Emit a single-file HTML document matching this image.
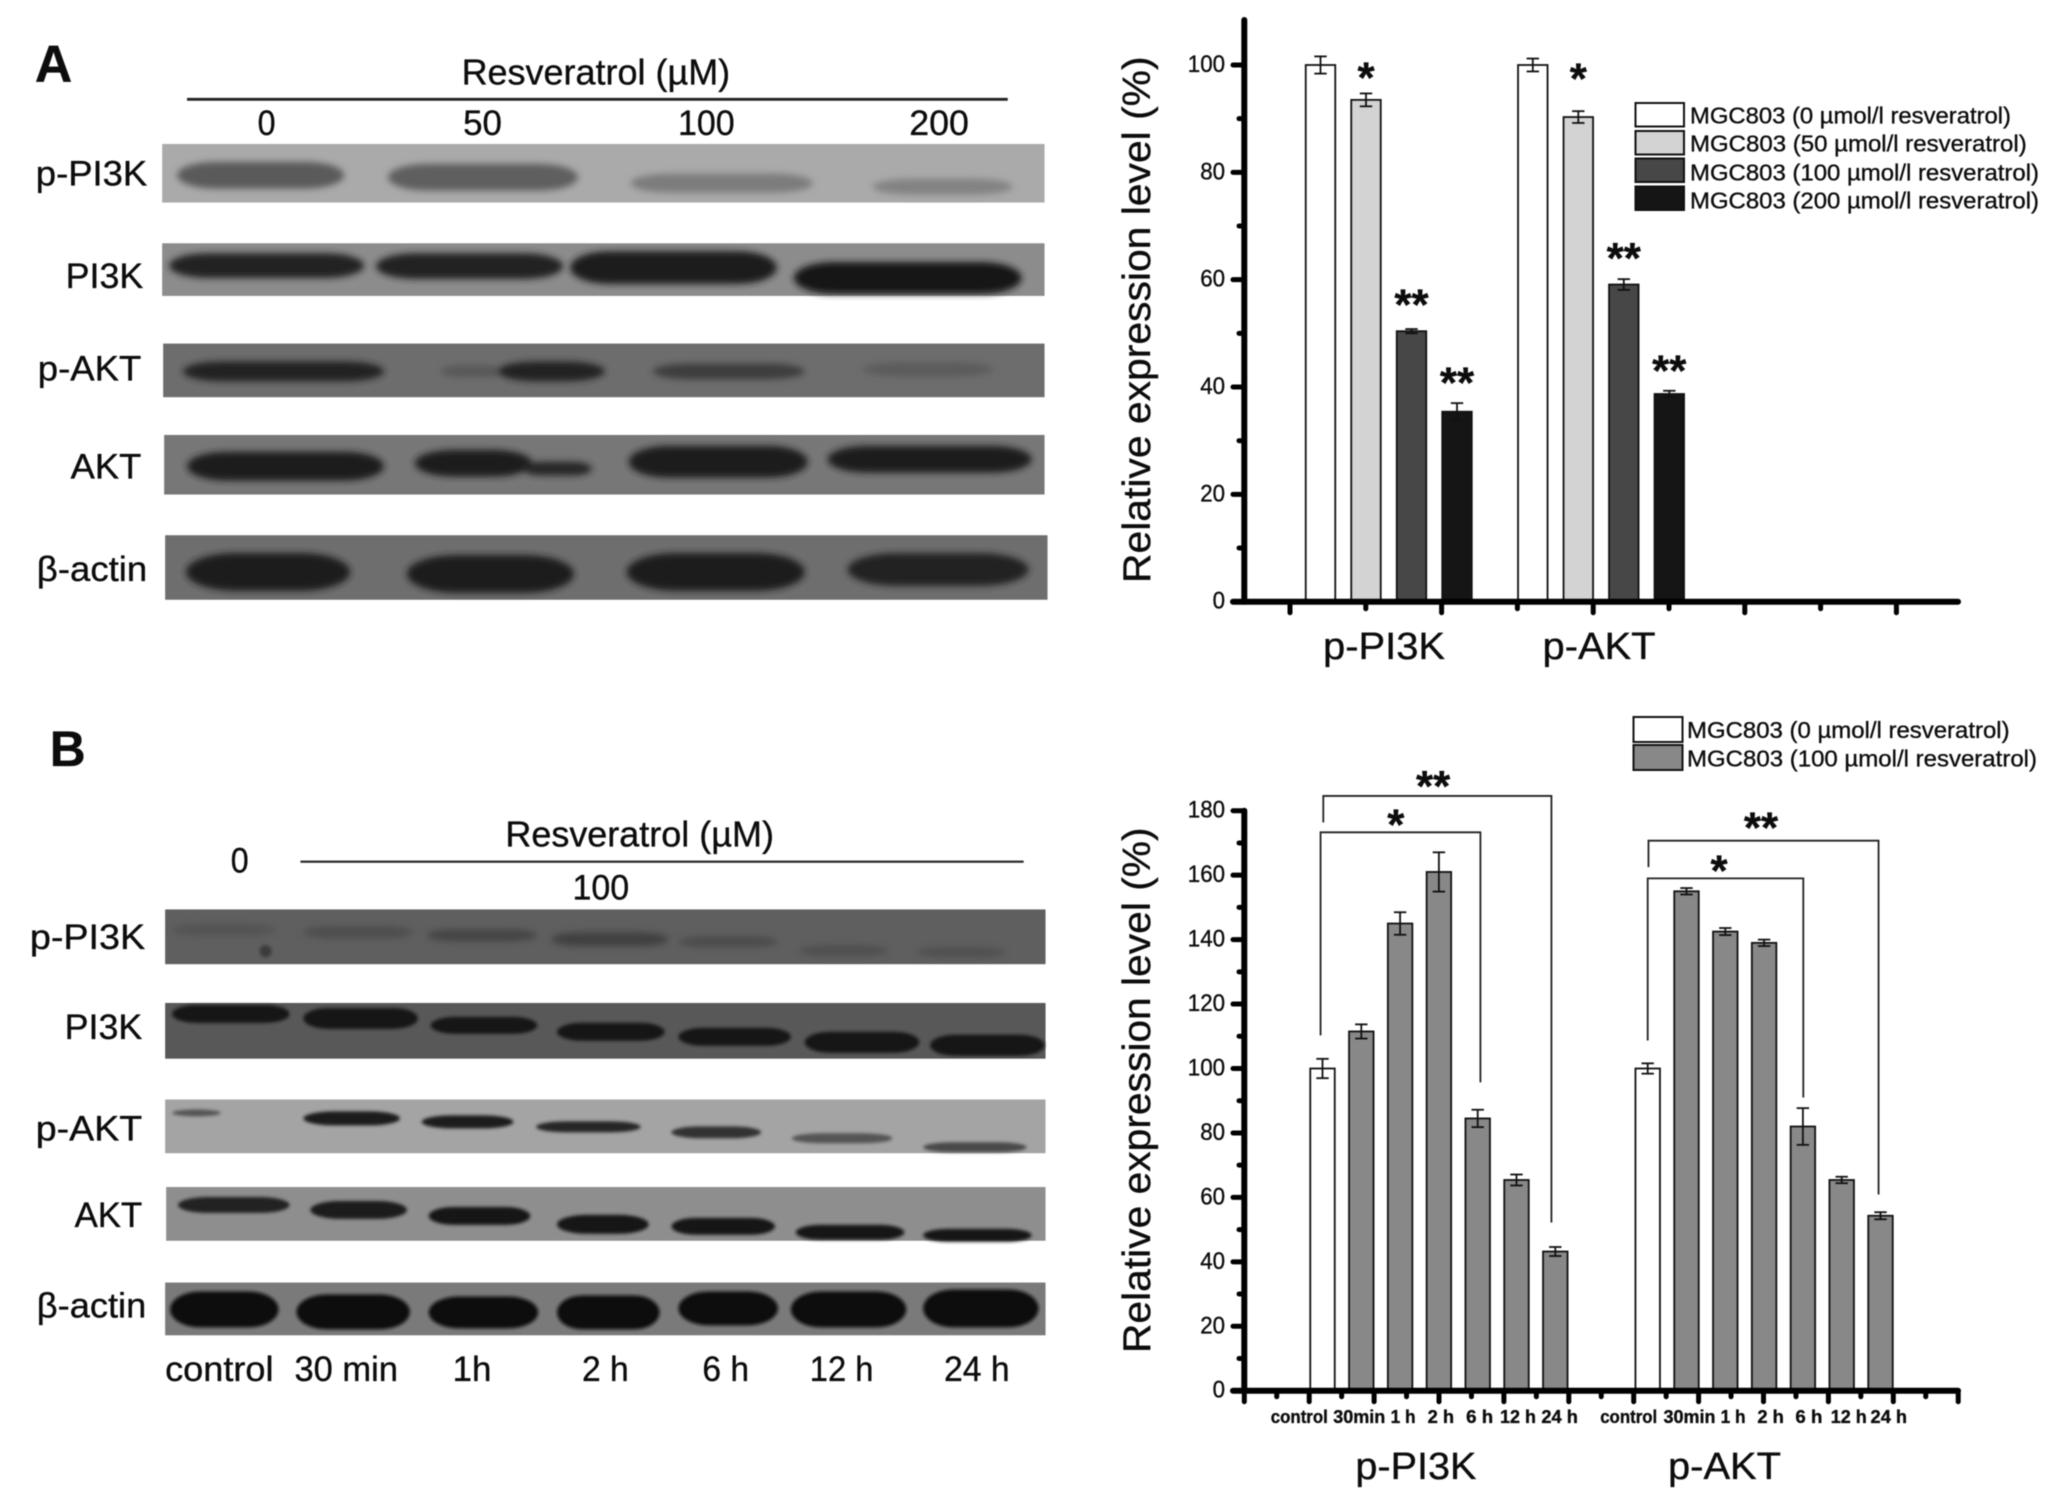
<!DOCTYPE html>
<html lang="en">
<head>
<meta charset="utf-8">
<title>Resveratrol western blots and expression charts</title>
<style>
html,body{margin:0;padding:0;background:#fff;width:2066px;height:1499px;overflow:hidden}
svg{display:block;font-family:"Liberation Sans",Arial,sans-serif;filter:blur(.45px)}
text{fill:#0c0c0c;stroke:#0c0c0c;stroke-width:.35px}
</style>
</head>
<body>
<svg id="figure" xmlns="http://www.w3.org/2000/svg" width="2066" height="1499" viewBox="0 0 2066 1499">
<defs>
<filter id="soft" x="-20%" y="-80%" width="140%" height="260%"><feGaussianBlur stdDeviation="3.4"/></filter>
<filter id="softer" x="-20%" y="-60%" width="140%" height="220%"><feGaussianBlur stdDeviation="1.5"/></filter>
</defs>

<g transform="scale(0.9948,0.993)">
<text x="35" y="82" font-size="52" font-weight="bold">A</text>
<text x="464" y="85" font-size="36" textLength="270" lengthAdjust="spacingAndGlyphs">Resveratrol (µM)</text>
<line x1="188" y1="100" x2="1013" y2="100" stroke="#222" stroke-width="2.8"/>
<text x="268" y="136" font-size="35" text-anchor="middle" textLength="18" lengthAdjust="spacingAndGlyphs">0</text>
<text x="485" y="136" font-size="35" text-anchor="middle" textLength="39" lengthAdjust="spacingAndGlyphs">50</text>
<text x="710" y="136" font-size="35" text-anchor="middle" textLength="57" lengthAdjust="spacingAndGlyphs">100</text>
<text x="944" y="136" font-size="35" text-anchor="middle" textLength="60" lengthAdjust="spacingAndGlyphs">200</text>

<text x="36" y="187" font-size="35" textLength="112" lengthAdjust="spacingAndGlyphs">p-PI3K</text>
<text x="66" y="290" font-size="35" textLength="78" lengthAdjust="spacingAndGlyphs">PI3K</text>
<text x="38" y="383" font-size="35" textLength="104" lengthAdjust="spacingAndGlyphs">p-AKT</text>
<text x="71" y="482" font-size="35" textLength="71" lengthAdjust="spacingAndGlyphs">AKT</text>
<text x="37" y="585" font-size="35" textLength="111" lengthAdjust="spacingAndGlyphs">β-actin</text>

<g>
<rect x="163" y="145" width="887" height="59" fill="#aaaaaa"/>
<g filter="url(#soft)">
<rect x="178" y="163" width="168" height="27" rx="40" fill="#5a5a5a"/>
<rect x="390" y="165" width="191" height="27" rx="40" fill="#5e5e5e"/>
<rect x="634" y="175" width="183" height="19" rx="40" fill="#7c7c7c"/>
<rect x="877" y="180" width="141" height="16" rx="40" fill="#828282"/>
</g></g>

<g>
<rect x="163" y="245" width="887" height="53" fill="#8c8c8c"/>
<g filter="url(#soft)">
<rect x="170" y="255" width="196" height="25" rx="40" fill="#202020"/>
<rect x="378" y="255" width="188" height="26" rx="40" fill="#202020"/>
<rect x="573" y="253" width="208" height="33" rx="40" fill="#1e1e1e"/>
<rect x="798" y="264" width="229" height="32" rx="40" fill="#181818"/>
</g></g>

<g>
<rect x="164" y="346" width="886" height="54" fill="#6d6d6d"/>
<g filter="url(#soft)">
<rect x="184" y="364" width="202" height="20" rx="40" fill="#202020"/>
<rect x="443" y="368" width="65" height="12" rx="20" fill="#585858"/>
<rect x="500" y="364" width="108" height="20" rx="40" fill="#222"/>
<rect x="656" y="366" width="153" height="16" rx="40" fill="#3e3e3e"/>
<rect x="867" y="365" width="132" height="14" rx="40" fill="#5c5c5c"/>
</g></g>

<g>
<rect x="165" y="438" width="885" height="60" fill="#777"/>
<g filter="url(#soft)">
<rect x="188" y="455" width="198" height="29" rx="40" fill="#1a1a1a"/>
<rect x="417" y="453" width="118" height="27" rx="40" fill="#1c1c1c"/>
<rect x="525" y="465" width="70" height="14" rx="20" fill="#262626"/>
<rect x="632" y="449" width="180" height="32" rx="40" fill="#1e1e1e"/>
<rect x="832" y="449" width="205" height="27" rx="40" fill="#1e1e1e"/>
</g></g>

<g>
<rect x="166" y="539" width="887" height="65" fill="#6e6e6e"/>
<g filter="url(#soft)">
<rect x="187" y="557" width="165" height="38" rx="50" fill="#1a1a1a"/>
<rect x="409" y="559" width="168" height="38" rx="50" fill="#1a1a1a"/>
<rect x="630" y="557" width="179" height="38" rx="50" fill="#1a1a1a"/>
<rect x="852" y="557" width="182" height="33" rx="50" fill="#232323"/>
</g></g>
</g>

<g transform="translate(-1,717.4) scale(0.9948,0.995) translate(0,-720)">
<text x="51" y="769" font-size="50" font-weight="bold">B</text>
<text x="242" y="876" font-size="35" text-anchor="middle" textLength="18" lengthAdjust="spacingAndGlyphs">0</text>
<text x="509" y="850" font-size="36" textLength="270" lengthAdjust="spacingAndGlyphs">Resveratrol (µM)</text>
<line x1="303" y1="865" x2="1030" y2="865" stroke="#222" stroke-width="2.2"/>
<text x="605" y="903" font-size="35" text-anchor="middle" textLength="57" lengthAdjust="spacingAndGlyphs">100</text>

<text x="31" y="953" font-size="35" textLength="116" lengthAdjust="spacingAndGlyphs">p-PI3K</text>
<text x="66" y="1043" font-size="35" textLength="78" lengthAdjust="spacingAndGlyphs">PI3K</text>
<text x="37" y="1145" font-size="35" textLength="107" lengthAdjust="spacingAndGlyphs">p-AKT</text>
<text x="76" y="1232" font-size="35" textLength="68" lengthAdjust="spacingAndGlyphs">AKT</text>
<text x="38" y="1323" font-size="35" textLength="110" lengthAdjust="spacingAndGlyphs">β-actin</text>

<g>
<rect x="167" y="913" width="885" height="55" fill="#5f5f5f"/>
<g filter="url(#soft)">
<rect x="174" y="928" width="104" height="11" rx="30" fill="#535353"/>
<rect x="306" y="930" width="110" height="12" rx="30" fill="#4e4e4e"/>
<rect x="430" y="933" width="111" height="12" rx="30" fill="#444"/>
<rect x="555" y="936" width="118" height="14" rx="30" fill="#404040"/>
<rect x="683" y="940" width="100" height="11" rx="30" fill="#4c4c4c"/>
<rect x="804" y="949" width="90" height="11" rx="30" fill="#505050"/>
<rect x="922" y="951" width="90" height="10" rx="30" fill="#505050"/>
</g>
<circle cx="268" cy="955" r="6" fill="#3a3a3a" filter="url(#softer)"/>
</g>

<g>
<rect x="167" y="1007" width="885" height="56" fill="#585858"/>
<g filter="url(#softer)">
<rect x="174" y="1009" width="118" height="18" rx="25" fill="#131313"/>
<rect x="306" y="1012" width="115" height="21" rx="25" fill="#131313"/>
<rect x="434" y="1021" width="107" height="17" rx="25" fill="#131313"/>
<rect x="561" y="1027" width="108" height="18" rx="25" fill="#131313"/>
<rect x="683" y="1032" width="113" height="18" rx="25" fill="#131313"/>
<rect x="810" y="1036" width="115" height="21" rx="25" fill="#131313"/>
<rect x="936" y="1039" width="115" height="21" rx="25" fill="#131313"/>
</g></g>

<g>
<rect x="167" y="1104" width="885" height="54" fill="#a4a4a4"/>
<g filter="url(#softer)">
<rect x="174" y="1114" width="49" height="7" rx="25" fill="#555"/>
<rect x="306" y="1116" width="97" height="14" rx="30" fill="#1c1c1c"/>
<rect x="425" y="1120" width="92" height="13" rx="30" fill="#1c1c1c"/>
<rect x="540" y="1126" width="105" height="11" rx="30" fill="#262626"/>
<rect x="676" y="1131" width="90" height="12" rx="30" fill="#303030"/>
<rect x="797" y="1138" width="101" height="10" rx="30" fill="#555"/>
<rect x="929" y="1147" width="104" height="10" rx="30" fill="#4a4a4a"/>
</g></g>

<g>
<rect x="168" y="1192" width="884" height="54" fill="#8e8e8e"/>
<g filter="url(#softer)">
<rect x="180" y="1202" width="112" height="16" rx="30" fill="#202020"/>
<rect x="313" y="1206" width="97" height="18" rx="30" fill="#1a1a1a"/>
<rect x="432" y="1212" width="102" height="18" rx="25" fill="#181818"/>
<rect x="561" y="1220" width="92" height="19" rx="30" fill="#141414"/>
<rect x="676" y="1223" width="104" height="17" rx="25" fill="#141414"/>
<rect x="801" y="1230" width="109" height="15" rx="25" fill="#141414"/>
<rect x="929" y="1234" width="109" height="13" rx="25" fill="#141414"/>
</g></g>

<g>
<rect x="167" y="1288" width="885" height="53" fill="#7a7a7a"/>
<g filter="url(#softer)">
<rect x="172" y="1297" width="109" height="36" rx="30" fill="#111"/>
<rect x="299" y="1300" width="114" height="35" rx="30" fill="#111"/>
<rect x="432" y="1302" width="110" height="32" rx="30" fill="#111"/>
<rect x="561" y="1301" width="103" height="34" rx="25" fill="#111"/>
<rect x="683" y="1297" width="100" height="34" rx="30" fill="#111"/>
<rect x="796" y="1297" width="116" height="36" rx="30" fill="#111"/>
<rect x="929" y="1295" width="116" height="38" rx="30" fill="#111"/>
</g></g>

<text x="167" y="1387" font-size="35" textLength="109" lengthAdjust="spacingAndGlyphs">control</text>
<text x="297" y="1387" font-size="35" textLength="104" lengthAdjust="spacingAndGlyphs">30 min</text>
<text x="456" y="1387" font-size="35" textLength="39" lengthAdjust="spacingAndGlyphs">1h</text>
<text x="586" y="1387" font-size="35" textLength="47" lengthAdjust="spacingAndGlyphs">2 h</text>
<text x="707" y="1387" font-size="35" textLength="47" lengthAdjust="spacingAndGlyphs">6 h</text>
<text x="815" y="1387" font-size="35" textLength="64" lengthAdjust="spacingAndGlyphs">12 h</text>
<text x="950" y="1387" font-size="35" textLength="66" lengthAdjust="spacingAndGlyphs">24 h</text>
</g>

<g id="chart-a"></g>
<g id="chart-b"></g>
</svg>

<script>
// ---- Chart A data: relative expression by dose ----
const doseGroups = ['p-PI3K', 'p-AKT'];
const doseSeriesNames = ['MGC803 (0 µmol/l resveratrol)', 'MGC803 (50 µmol/l resveratrol)', 'MGC803 (100 µmol/l resveratrol)', 'MGC803 (200 µmol/l resveratrol)'];
const dosePI3KValues = [100, 93.5, 50.4, 35.4];
const dosePI3KErrors = [1.6, 1.2, 0.4, 1.6];
const doseAKTValues = [100, 90.3, 59.1, 38.7];
const doseAKTErrors = [1.2, 1.1, 1.0, 0.6];
const dosePI3KMarks = ['', '*', '**', '**'];
const doseAKTMarks = ['', '*', '**', '**'];
const dosePI3KMarkLevels = [0, 98.6, 56.3, 41.8];
const doseAKTMarkLevels = [0, 98.4, 65, 44];
const doseYTickLabels = [0, 20, 40, 60, 80, 100];
const doseYMinorTicks = [10, 30, 50, 70, 90];

// ---- Chart B data: relative expression by time ----
const timeGroups = ['p-PI3K', 'p-AKT'];
const timeCategories = ['control', '30min', '1 h', '2 h', '6 h', '12 h', '24 h'];
const timeSeriesNames = ['MGC803 (0 µmol/l resveratrol)', 'MGC803 (100 µmol/l resveratrol)'];
const timePI3KValues = [100, 111.5, 145, 161, 84.5, 65.4, 43.2];
const timePI3KErrors = [3, 2.2, 3.5, 6.1, 2.7, 1.7, 1.4];
const timeAKTValues = [100, 155, 142.5, 139, 82, 65.4, 54.3];
const timeAKTErrors = [1.6, 1.0, 1.1, 1.0, 5.7, 1.0, 1.1];
const timeYTickLabels = [0, 20, 40, 60, 80, 100, 120, 140, 160, 180];
const timeYMinorTicks = [10, 30, 50, 70, 90, 110, 130, 150, 170];
// bracket annotations: heights in value units, ends in category slots
const bracketMarks = ['**', '*'];
const bracketPI3KStartSlots = [0.02, -0.05];
const bracketPI3KEndSlots = [5.9, 4.07];
const bracketAKTStartSlots = [0.02, 0];
const bracketAKTEndSlots = [5.95, 4.01];
const bracketPI3KTops = [184.6, 173.3];
const bracketPI3KStarts = [176.4, 110.3];
const bracketPI3KEnds = [52.2, 95.7];
const bracketAKTTops = [170.7, 159];
const bracketAKTStarts = [162.5, 108.7];
const bracketAKTEnds = [60.9, 91];
const bracketPI3KMarkLevels = [189.2, 177.3];
const bracketAKTMarkLevels = [176.4, 163];
const bracketPI3KMarkSlots = [2.85, 1.89];
const bracketAKTMarkSlots = [2.92, 1.84];

// ---- Axis functions ----
const doseY = v => 601.7 - v * 5.367;
const doseX = (g, i) => 1320.5 + g * 212.3 + i * 45.5;
const timeY = v => 1390.7 - v * 3.222;
const timeX = (g, i) => 1322.5 + g * 325.2 + i * 38.8;

// ---- Layout constants (not data) ----
const doseBarWidth = 29.5;
const timeBarWidth = 24.5;
const doseFills = ['#ffffff', '#d3d3d3', '#474747', '#151515'];
const timeFills = ['#ffffff', '#888888'];
const timeTickLabelWidths = [57, 52, 25, 26.5, 27, 36, 36.5];
const timeTickLabelNudges = [[-23.2, -2, 3, 2, 2, 1.5, 4.3], [-19, 3, 7.8, 6.5, 6, 7, 8.3]];
const NS = 'http://www.w3.org/2000/svg';

function add(parent, tag, attrs, text) {
  const el = document.createElementNS(NS, tag);
  for (const k in attrs) el.setAttribute(k, attrs[k]);
  if (text !== undefined) el.textContent = text;
  parent.appendChild(el);
  return el;
}

function drawBar(parent, cx, value, err, w, fill, yFn, capHalf) {
  const top = yFn(value), base = yFn(0);
  const errHigh = yFn(value + err), errLow = yFn(value - err);
  const bar = add(parent, 'rect', {x: cx - w / 2, y: top, width: w, height: base - top, fill: fill, stroke: '#111', 'stroke-width': 1.8});
  
  
  const stem = add(parent, 'line', {x1: cx, x2: cx, y1: errHigh, y2: errLow, stroke: '#111', 'stroke-width': 1.8});
  
  
  const capTop = add(parent, 'line', {x1: cx - capHalf, x2: cx + capHalf, y1: errHigh, y2: errHigh, stroke: '#111', 'stroke-width': 1.8});
  
  
  const capBottom = add(parent, 'line', {x1: cx - capHalf, x2: cx + capHalf, y1: errLow, y2: errLow, stroke: '#111', 'stroke-width': 1.8});
  
  
}

function drawMark(parent, cx, cy, mark) {
  const t = add(parent, 'text', {x: cx, y: cy + 20, 'font-size': 44, 'font-weight': 'bold', 'text-anchor': 'middle'}, mark);
  
  
}

function drawYAxis(parent, yFn, topY, labels, minors) {
  const base = yFn(0);
  const axis = add(parent, 'line', {x1: 1244.3, x2: 1244.3, y1: topY, y2: base, stroke: '#000', 'stroke-width': 6, 'stroke-linecap': 'round'});
  
  
  labels.forEach(v => {
    const tick = add(parent, 'line', {x1: 1233, x2: 1244.3, y1: yFn(v), y2: yFn(v), stroke: '#000', 'stroke-width': 5, 'stroke-linecap': 'round'});
    
    
    const s = String(v);
    const lab = add(parent, 'text', {x: 1225, y: yFn(v) + 7, 'font-size': 24, 'text-anchor': 'end', textLength: s.length * 12.4, lengthAdjust: 'spacingAndGlyphs'}, s);
    
    
  });
  minors.forEach(v => {
    const tick = add(parent, 'line', {x1: 1239, x2: 1244.3, y1: yFn(v), y2: yFn(v), stroke: '#000', 'stroke-width': 5, 'stroke-linecap': 'round'});
    
    
  });
}

function drawLegend(parent, names, fills, boxX, boxW, textX, tops, boxH, baselines, widths) {
  names.forEach((name, i) => {
    const box = add(parent, 'rect', {x: boxX, y: tops[i], width: boxW, height: boxH, fill: fills[i], stroke: '#111', 'stroke-width': 2});
    
    
    const t = add(parent, 'text', {x: textX, y: baselines[i], 'font-size': 23, textLength: widths[i], lengthAdjust: 'spacingAndGlyphs'}, name);
    
    
  });
}

function drawTitle(parent, baseX, y0, y1) {
  const len = y1 - y0;
  const t = add(parent, 'text', {transform: 'translate(' + baseX + ',' + y1 + ') rotate(-90)', 'font-size': 39, textLength: len, lengthAdjust: 'spacingAndGlyphs'}, 'Relative expression level (%)');
  
  
}

function drawChartA() {
  const g = document.getElementById('chart-a');
  drawTitle(g, 1150, 56.4, 583);
  const values = [dosePI3KValues, doseAKTValues];
  const errors = [dosePI3KErrors, doseAKTErrors];
  const marks = [dosePI3KMarks, doseAKTMarks];
  const levels = [dosePI3KMarkLevels, doseAKTMarkLevels];
  doseGroups.forEach((name, gi) => {
    values[gi].forEach((v, i) => {
      drawBar(g, doseX(gi, i), v, errors[gi][i], doseBarWidth, doseFills[i], doseY, 6.2);
      if (marks[gi][i]) drawMark(g, doseX(gi, i), doseY(levels[gi][i]), marks[gi][i]);
    });
    const center = (doseX(gi, 0) + doseX(gi, 3)) / 2;
    const lab = add(g, 'text', {x: center - (gi ? 2 : 4.7), y: 659, 'font-size': 38, 'text-anchor': 'middle', textLength: gi ? 113 : 122, lengthAdjust: 'spacingAndGlyphs'}, name);
    
    
  });
  drawYAxis(g, doseY, 20, doseYTickLabels, doseYMinorTicks);
  const xAxis = add(g, 'line', {x1: 1233, x2: 1958, y1: doseY(0), y2: doseY(0), stroke: '#000', 'stroke-width': 6, 'stroke-linecap': 'round'});
  
  
  for (let k = 0; k < 9; k++) {
    const tick = add(g, 'line', {x1: 1290 + k * 75.8, x2: 1290 + k * 75.8, y1: doseY(0), y2: doseY(0) + (k % 2 ? 7 : 11), stroke: '#000', 'stroke-width': 5, 'stroke-linecap': 'round'});
    
    
  }
  drawLegend(g, doseSeriesNames, doseFills, 1635.5, 48.5, 1690, [103, 131, 158.5, 186.5], 23.5, [123.5, 151.5, 180.5, 208.5], [321, 336.7, 349, 349]);
}

function drawChartB() {
  const g = document.getElementById('chart-b');
  drawTitle(g, 1150, 827.4, 1353);
  const values = [timePI3KValues, timeAKTValues];
  const errors = [timePI3KErrors, timeAKTErrors];
  const startSlots = [bracketPI3KStartSlots, bracketAKTStartSlots];
  const endSlots = [bracketPI3KEndSlots, bracketAKTEndSlots];
  const tops = [bracketPI3KTops, bracketAKTTops];
  const starts = [bracketPI3KStarts, bracketAKTStarts];
  const ends = [bracketPI3KEnds, bracketAKTEnds];
  const markLevels = [bracketPI3KMarkLevels, bracketAKTMarkLevels];
  const markSlots = [bracketPI3KMarkSlots, bracketAKTMarkSlots];
  timeGroups.forEach((name, gi) => {
    values[gi].forEach((v, i) => {
      drawBar(g, timeX(gi, i), v, errors[gi][i], timeBarWidth, i === 0 ? timeFills[0] : timeFills[1], timeY, 6.2);
      const lab = add(g, 'text', {x: timeX(gi, i) + timeTickLabelNudges[gi][i], y: 1423, 'font-size': 18, 'font-weight': 'bold', 'text-anchor': 'middle', textLength: timeTickLabelWidths[i], lengthAdjust: 'spacingAndGlyphs'}, timeCategories[i]);
      
      
    });
    bracketMarks.forEach((mark, b) => {
      const x0 = timeX(gi, startSlots[gi][b]), x1 = timeX(gi, endSlots[gi][b]);
      const d = 'M' + x0 + ' ' + timeY(starts[gi][b]) + 'V' + timeY(tops[gi][b]) + 'H' + x1 + 'V' + timeY(ends[gi][b]);
      const path = add(g, 'path', {d: d, fill: 'none', stroke: '#222', 'stroke-width': 1.8});
      
      
      drawMark(g, timeX(gi, markSlots[gi][b]), timeY(markLevels[gi][b]), mark);
    });
    const center = (timeX(gi, 0) + timeX(gi, 6)) / 2;
    const lab = add(g, 'text', {x: center - (gi ? 39.6 : 23), y: 1479, 'font-size': 38, 'text-anchor': 'middle', textLength: gi ? 113 : 121, lengthAdjust: 'spacingAndGlyphs'}, name);
    
    
  });
  drawYAxis(g, timeY, timeY(180), timeYTickLabels, timeYMinorTicks);
  const xAxis = add(g, 'line', {x1: 1233, x2: 1958, y1: timeY(0), y2: timeY(0), stroke: '#000', 'stroke-width': 6, 'stroke-linecap': 'round'});
  
  
  for (let k = 0; k < 23; k++) {
    const tick = add(g, 'line', {x1: 1244.3 + k * 32.45, x2: 1244.3 + k * 32.45, y1: timeY(0), y2: timeY(0) + (k % 2 ? 6 : 11), stroke: '#000', 'stroke-width': 5, 'stroke-linecap': 'round'});
    
    
  }
  drawLegend(g, timeSeriesNames, timeFills, 1633.5, 49, 1687, [717, 745], 25, [738, 766.5], [322.6, 350]);
}

drawChartA();
drawChartB();
</script>
</body>
</html>
